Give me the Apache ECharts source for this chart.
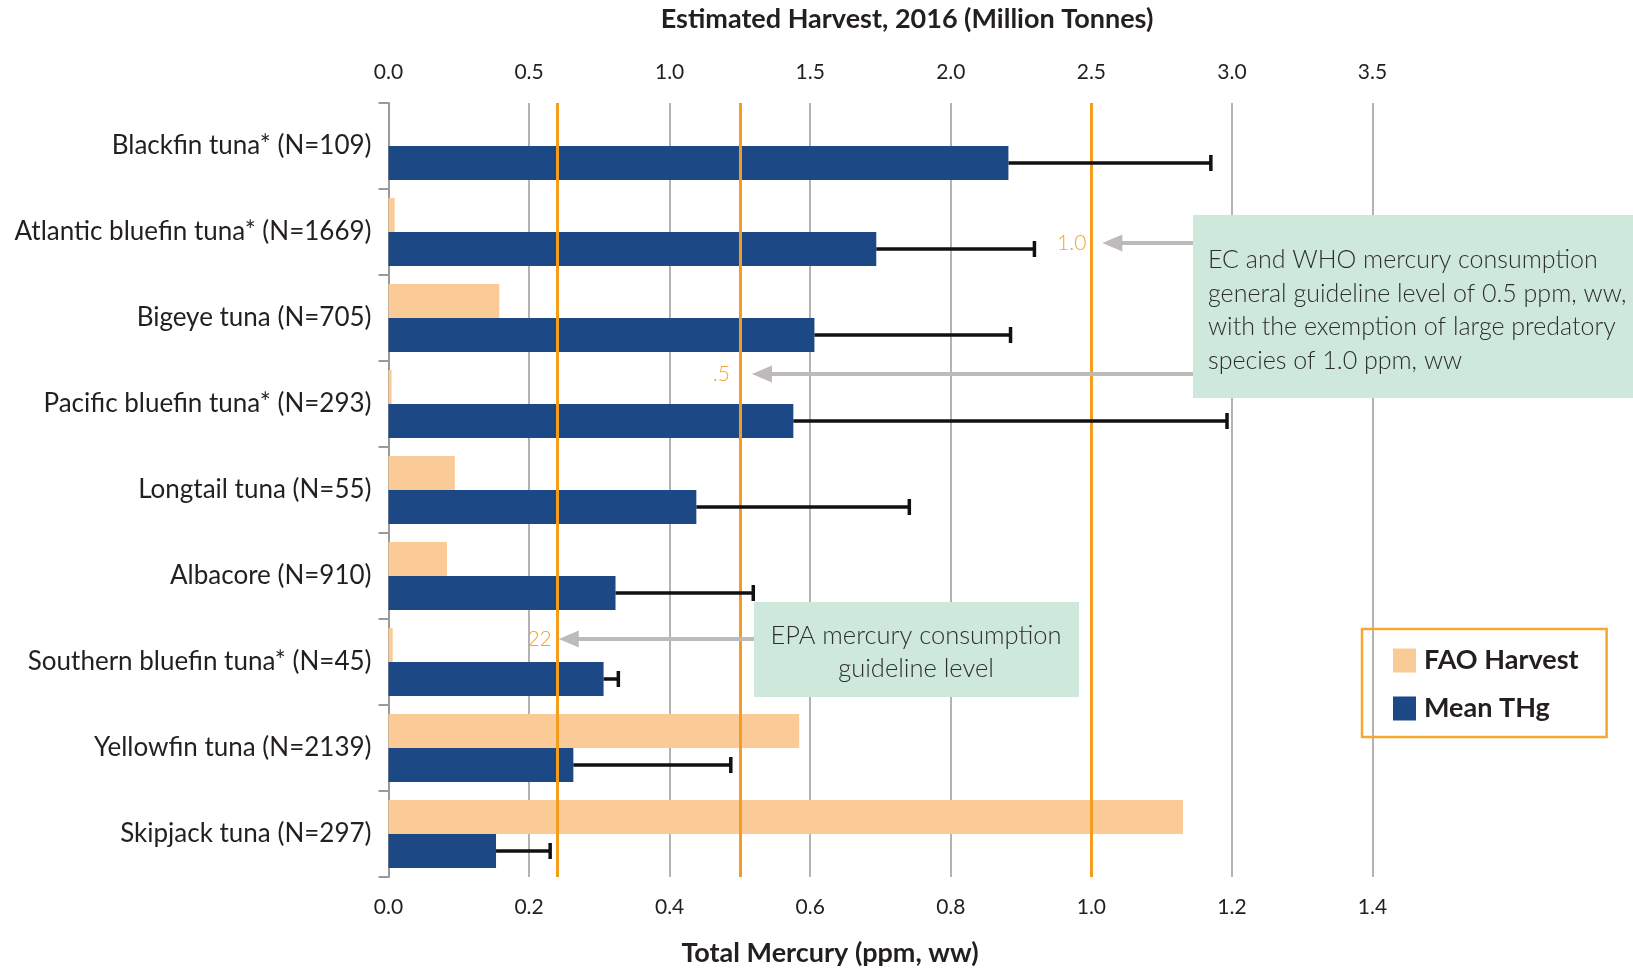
<!DOCTYPE html>
<html>
<head>
<meta charset="utf-8">
<script src="https://cdn.jsdelivr.net/npm/echarts@6/dist/echarts.min.js"></script>
<style>
  html, body { margin: 0; padding: 0; background: #fff; }
  #main { width: 1633px; height: 973px; }
</style>
</head>
<body>
<div id="main"></div>
<script>
// species, top to bottom
var species = ['Blackfin tuna* (N=109)', 'Atlantic bluefin tuna* (N=1669)', 'Bigeye tuna (N=705)',
  'Pacific bluefin tuna* (N=293)', 'Longtail tuna (N=55)', 'Albacore (N=910)',
  'Southern bluefin tuna* (N=45)', 'Yellowfin tuna (N=2139)', 'Skipjack tuna (N=297)'];
// FAO harvest 2016, million tonnes (top axis)
var faoHarvest = [0, 0.022, 0.394, 0.011, 0.236, 0.208, 0.015, 1.461, 2.826];
// mean total mercury, ppm ww (bottom axis) and upper end of error bar
var meanTHg = [0.882, 0.694, 0.606, 0.576, 0.438, 0.323, 0.306, 0.263, 0.153];
var upperTHg = [1.170, 0.919, 0.885, 1.193, 0.741, 0.519, 0.327, 0.487, 0.230];
// guideline levels drawn as orange lines
var guideLevels = [0.238, 0.5, 1.0];
var guideLabels = ['22', '.5', '1.0'];

var FONT = 'Lato, "Open Sans", sans-serif';
var errData = species.map(function (s, i) { return [i, meanTHg[i], upperTHg[i]]; });

var chart = echarts.init(document.getElementById('main'));

var option = {
  animation: false,
  textStyle: { fontFamily: FONT },
  grid: { left: 388.5, right: 260.5, top: 103, bottom: 96 },
  legend: {
    data: ['FAO Harvest', 'Mean THg'],
    orient: 'vertical',
    left: 1362, top: 629,
    padding: [18, 28, 15, 31],
    itemWidth: 23, itemHeight: 24, itemGap: 21,
    icon: 'rect',
    borderColor: '#F5A830', borderWidth: 2.5,
    textStyle: { fontSize: 27, fontWeight: 'bold', color: '#231F20', fontFamily: FONT, padding: [0, 0, 0, 3] }
  },
  xAxis: [
    {
      type: 'value', position: 'bottom', min: 0, max: 1.4, interval: 0.2,
      axisLine: { show: false }, axisTick: { show: false },
      axisLabel: { fontSize: 21, color: '#231F20', margin: 20, formatter: function (v) { return v.toFixed(1); } },
      splitLine: { show: true, lineStyle: { color: '#9A9A9A', width: 1.5 } }
    },
    {
      type: 'value', position: 'top', min: 0, max: 3.5, interval: 0.5,
      axisLine: { show: false }, axisTick: { show: false },
      axisLabel: { fontSize: 21, color: '#231F20', margin: 20, formatter: function (v) { return v.toFixed(1); } },
      splitLine: { show: false }
    }
  ],
  yAxis: {
    type: 'category', data: species, inverse: true,
    axisLine: { show: true, lineStyle: { color: '#9A9A9A', width: 2 } },
    axisTick: { show: true, length: 10, lineStyle: { color: '#9A9A9A', width: 2 } },
    axisLabel: { fontSize: 26, color: '#231F20', margin: 17 }
  },
  series: [
    {
      name: 'FAO Harvest', type: 'bar', xAxisIndex: 1, yAxisIndex: 0,
      data: faoHarvest, barWidth: 34, barGap: '0%',
      itemStyle: { color: '#FBCB97' }
    },
    {
      name: 'Mean THg', type: 'bar', xAxisIndex: 0, yAxisIndex: 0,
      data: meanTHg, barWidth: 34, barGap: '0%',
      itemStyle: { color: '#1C4985' },
      markLine: {
        silent: true, symbol: 'none', label: { show: false },
        lineStyle: { color: '#F39C1E', width: 3, type: 'solid' },
        data: guideLevels.map(function (v) { return { xAxis: v }; })
      }
    },
    {
      name: 'error', type: 'custom', xAxisIndex: 0, yAxisIndex: 0, z: 5,
      data: errData,
      encode: { x: [1, 2], y: 0 },
      renderItem: function (params, api) {
        var c = api.value(0);
        var a = api.coord([api.value(1), c]);
        var b = api.coord([api.value(2), c]);
        var y = a[1] + 17;
        var st = { stroke: '#111', lineWidth: 3.5 };
        return {
          type: 'group',
          children: [
            { type: 'line', shape: { x1: a[0], y1: y, x2: b[0], y2: y }, style: st },
            { type: 'line', shape: { x1: b[0], y1: y - 8, x2: b[0], y2: y + 8 }, style: st }
          ]
        };
      }
    }
  ]
};
chart.setOption(option);

// annotations: arrows from the boxes to the guideline levels
function px(v) { return chart.convertToPixel({ xAxisIndex: 0 }, v); }
var notes = [
  { i: 2, y: 243, gap: 5, tip: 11, boxX: 1193 },
  { i: 1, y: 374, gap: 10, tip: 12, boxX: 1193 },
  { i: 0, y: 639, gap: 4, tip: 3, boxX: 754 }
];
var graphic = [];
notes.forEach(function (n) {
  var lx = px(guideLevels[n.i]);
  var tx = lx + n.tip;
  graphic.push({
    type: 'text', z: 100, x: lx - n.gap, y: n.y,
    style: { text: guideLabels[n.i], fill: '#F4A42C', font: '300 21px ' + FONT, textAlign: 'right', textVerticalAlign: 'middle' }
  });
  graphic.push({
    type: 'line', z: 100, shape: { x1: tx + 14, y1: n.y, x2: n.boxX, y2: n.y },
    style: { stroke: '#BFBABA', lineWidth: 4 }
  });
  graphic.push({
    type: 'polygon', z: 100, shape: { points: [[tx, n.y], [tx + 20, n.y - 8.5], [tx + 20, n.y + 8.5]] },
    style: { fill: '#BFBABA' }
  });
});

// EC / WHO note
graphic.push({ type: 'rect', z: 101, shape: { x: 1193, y: 215, width: 450, height: 183 }, style: { fill: '#CFE8DC' } });
['EC and WHO mercury consumption', 'general guideline level of 0.5 ppm, ww,',
  'with the exemption of large predatory', 'species of 1.0 ppm, ww'].forEach(function (t, k) {
  graphic.push({
    type: 'text', z: 102, x: 1208, y: 260 + k * 33.5,
    style: { text: t, fill: '#2E2E2E', font: '300 25px ' + FONT, textAlign: 'left', textVerticalAlign: 'middle' }
  });
});

// EPA note
graphic.push({ type: 'rect', z: 101, shape: { x: 754, y: 602, width: 325, height: 95 }, style: { fill: '#CFE8DC' } });
['EPA mercury consumption', 'guideline level'].forEach(function (t, k) {
  graphic.push({
    type: 'text', z: 102, x: 916, y: 636 + k * 32.5,
    style: { text: t, fill: '#2E2E2E', font: '300 25.5px ' + FONT, textAlign: 'center', textVerticalAlign: 'middle' }
  });
});

// axis titles
graphic.push({
  type: 'text', z: 102, x: 907, y: 19,
  style: { text: 'Estimated Harvest, 2016 (Million Tonnes)', fill: '#231F20', font: 'bold 27px ' + FONT, textAlign: 'center', textVerticalAlign: 'middle' }
});
graphic.push({
  type: 'text', z: 102, x: 830, y: 953,
  style: { text: 'Total Mercury (ppm, ww)', fill: '#231F20', font: 'bold 27px ' + FONT, textAlign: 'center', textVerticalAlign: 'middle' }
});

chart.setOption({ graphic: graphic });
</script>
</body>
</html>
